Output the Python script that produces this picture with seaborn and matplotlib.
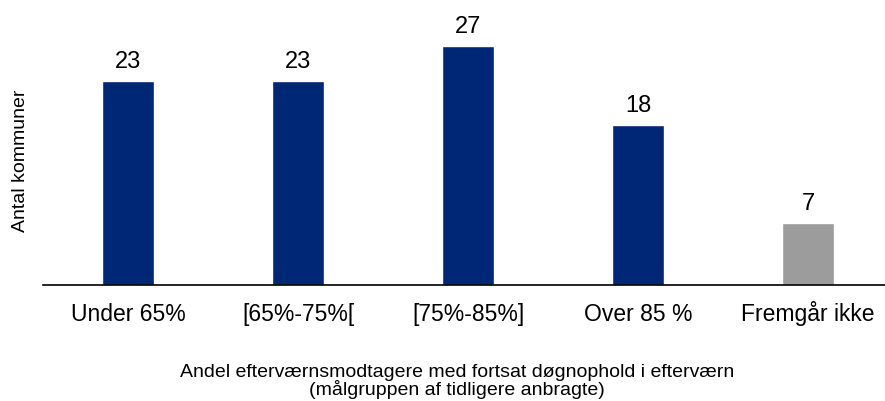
import matplotlib
matplotlib.use("Agg")
import matplotlib.pyplot as plt
import seaborn as sns
import pandas as pd

categories = ["Under 65%", "[65%-75%[", "[75%-85%]", "Over 85 %", "Fremgår ikke"]
values = [23, 23, 27, 18, 7]
colors = ["#002776", "#002776", "#002776", "#002776", "#9c9c9c"]

sns.set_style("white")
plt.rcParams["font.family"] = ["Liberation Sans", "DejaVu Sans"]
plt.rcParams["text.color"] = "black"
plt.rcParams["axes.labelcolor"] = "black"
plt.rcParams["xtick.color"] = "black"

df = pd.DataFrame({"kategori": categories, "antal": values})

fig = plt.figure(figsize=(8.85, 4.01), dpi=100)
ax = fig.add_axes([43 / 885, 116 / 401, 850 / 885, 266 / 401])

sns.barplot(data=df, x="kategori", y="antal", hue="kategori", palette=colors,
            width=0.31, legend=False, ax=ax, saturation=1)

# value labels above bars
for i, v in enumerate(values):
    ax.text(i, v + 1.47, str(v), ha="center", va="baseline", fontsize=17)

ax.set_xlim(-0.5, 4.5)
ax.set_ylim(0, 30)
ax.set_yticks([])
ax.tick_params(axis="x", labelsize=16.5, length=0, pad=26)
plt.setp(ax.get_xticklabels(), va="baseline")

ax.set_xlabel("Andel efterværnsmodtagere med fortsat døgnophold i efterværn\n(målgruppen af tidligere anbragte)",
              fontsize=14, linespacing=0.95)
ax.xaxis.set_label_coords(0.5 - 11 / 850, -0.297)
ax.set_ylabel("Antal kommuner", fontsize=14)
ax.yaxis.set_label_coords(-0.0165, 0.466)

for side in ["top", "right", "left"]:
    ax.spines[side].set_visible(False)
ax.spines["bottom"].set_color("black")
ax.spines["bottom"].set_linewidth(1.2)

fig.savefig("out.png", dpi=100)
